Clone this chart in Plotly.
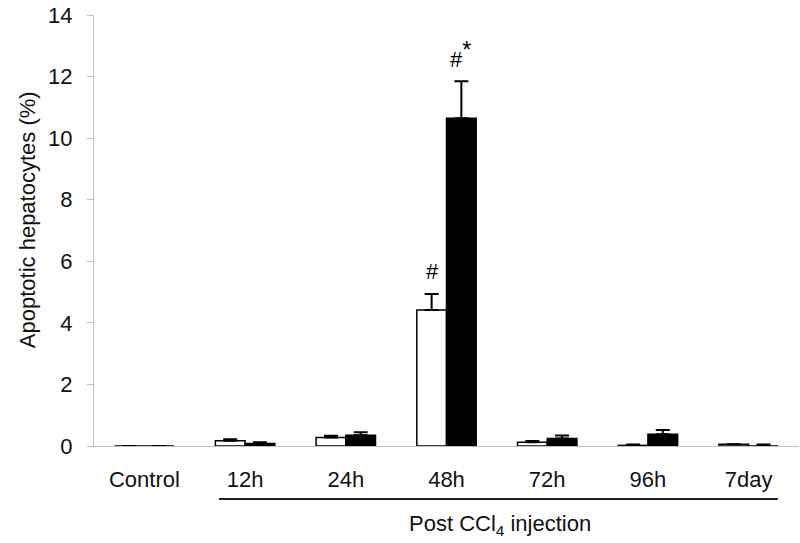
import plotly.graph_objects as go

categories = ["Control", "12h", "24h", "48h", "72h", "96h", "7day"]
white_vals = [0.0, 0.17, 0.28, 4.42, 0.12, 0.02, 0.06]
white_err = [0.0, 0.05, 0.05, 0.52, 0.04, 0.03, 0.0]
black_vals = [0.0, 0.08, 0.35, 10.65, 0.24, 0.38, 0.0]
black_err = [0.0, 0.04, 0.1, 1.2, 0.1, 0.14, 0.05]
y_ticks = [0, 2, 4, 6, 8, 10, 12, 14]

FONT = "Arial, Liberation Sans, sans-serif"
FS = 22

fig = go.Figure()
fig.add_trace(go.Bar(
    x=categories, y=white_vals,
    marker=dict(color="white", line=dict(color="black", width=1.5)),
    error_y=dict(type="data", symmetric=False, array=white_err,
                 arrayminus=[0] * len(white_err), color="black",
                 thickness=2, width=7),
    showlegend=False,
))
fig.add_trace(go.Bar(
    x=categories, y=black_vals,
    marker=dict(color="black", line=dict(color="black", width=1.5)),
    error_y=dict(type="data", symmetric=False, array=black_err,
                 arrayminus=[0] * len(black_err), color="black",
                 thickness=2, width=7),
    showlegend=False,
))

i48 = categories.index("48h")
fig.add_annotation(x=i48, xshift=-14, y=white_vals[i48] + white_err[i48],
                   yshift=22, text="#", showarrow=False,
                   font=dict(family=FONT, size=FS, color="black"))
fig.add_annotation(x=i48, xshift=14, y=black_vals[i48] + black_err[i48],
                   yshift=27, text="#<sup><span style='font-size:23px'>*</span></sup>",
                   showarrow=False,
                   font=dict(family=FONT, size=FS, color="black"))

# y-axis title
fig.add_annotation(x=-0.095, xref="paper", y=0.524, yref="paper",
                   xanchor="center", yanchor="middle", textangle=-90,
                   text="Apoptotic hepatocytes (%)", showarrow=False,
                   font=dict(family=FONT, size=FS, color="#111111"))

# bracket line under post-injection groups
fig.add_shape(type="line", xref="x", yref="paper",
              x0=0.74, x1=6.29, y0=-0.123, y1=-0.123,
              line=dict(color="#222222", width=2))
fig.add_annotation(x=3.53, xref="x", y=-0.183, yref="paper",
                   yanchor="middle", xanchor="center",
                   text="Post CCl<sub>4</sub> injection", showarrow=False,
                   font=dict(family=FONT, size=FS, color="#111111"))

fig.update_layout(
    width=800, height=543,
    margin=dict(l=94, r=1, t=15, b=97),
    paper_bgcolor="white", plot_bgcolor="white",
    barmode="group", bargap=0.41, bargroupgap=0,
    font=dict(family=FONT, size=FS, color="#111111"),
    xaxis=dict(showline=True, linecolor="#c0c0c0", linewidth=1,
               ticks="outside", ticklen=14, tickcolor="rgba(0,0,0,0)",
               showgrid=False, zeroline=False, automargin=False,
               tickfont=dict(size=FS)),
    yaxis=dict(range=[0, 14], tickvals=y_ticks, showline=True,
               linecolor="#c0c0c0", linewidth=1, ticks="outside",
               ticklen=6, tickcolor="#c0c0c0", showgrid=False,
               ticklabelstandoff=10, ticklabeloverflow="allow",
               zeroline=False, automargin=False, tickfont=dict(size=FS)),
)

fig.write_html("out.html",
               config={"displayModeBar": False},
               post_script="document.body.style.margin='0px';"
                           "document.body.style.overflow='hidden';")
